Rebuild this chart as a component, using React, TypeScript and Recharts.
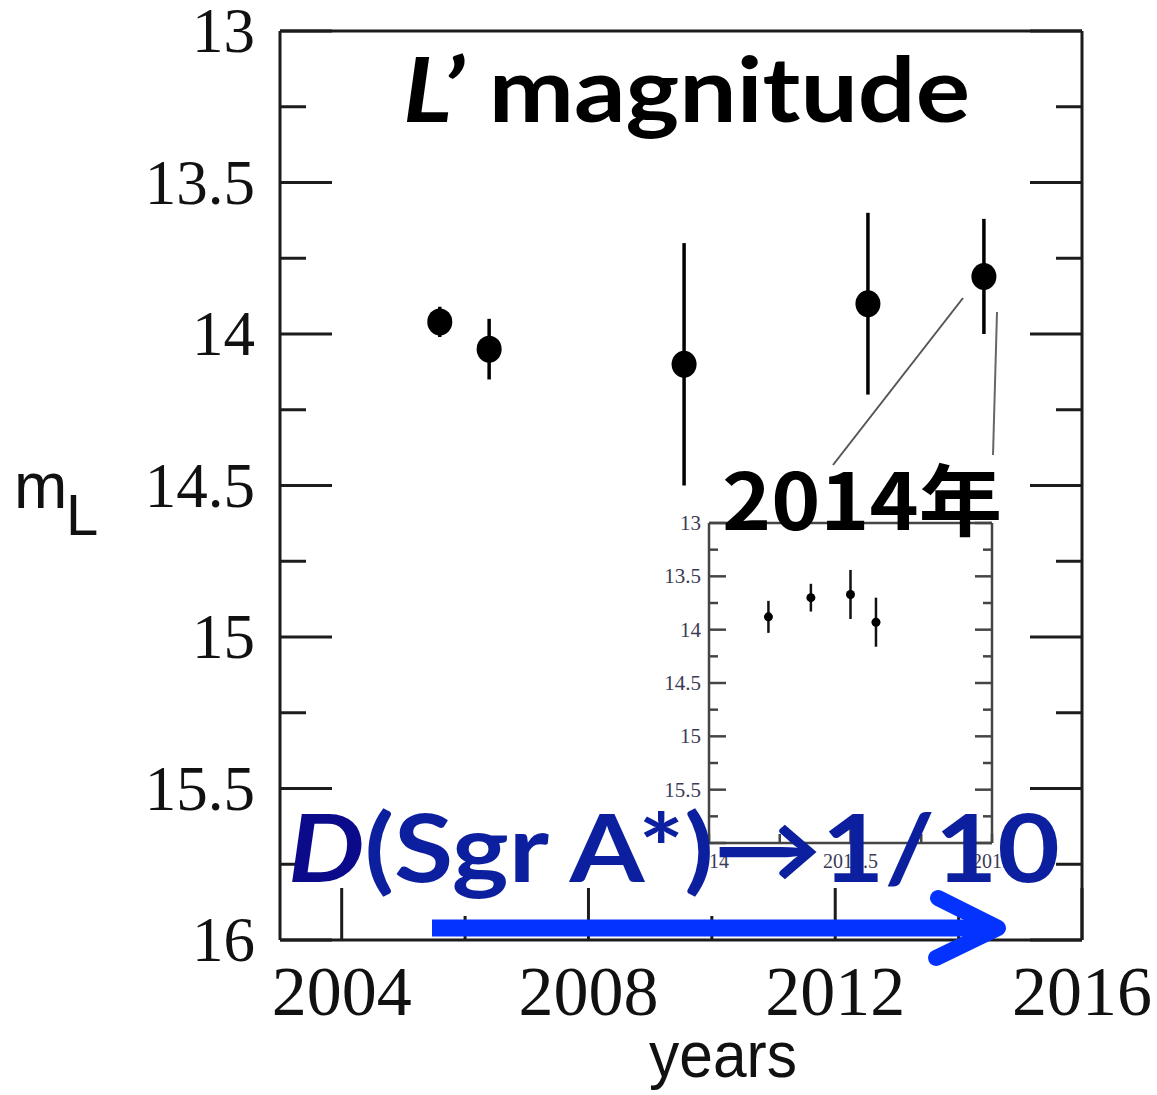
import React from 'react';
import { ScatterChart, Scatter, XAxis, YAxis, ErrorBar } from 'recharts';

// main panel: L' band photometry per epoch
const years = [2005.59, 2006.39, 2009.55, 2012.53, 2014.41];
const magnitudes = [13.96, 14.05, 14.1, 13.9, 13.81];
const errors = [0.05, 0.1, 0.4, 0.3, 0.19];

const xTicks = [2004, 2006, 2008, 2010, 2012, 2014, 2016];
const xLabels = [2004, 2008, 2012, 2016];
const yTicks = [13, 13.25, 13.5, 13.75, 14, 14.25, 14.5, 14.75, 15, 15.25, 15.5, 15.75, 16];
const yLabels = [13, 13.5, 14, 14.5, 15, 15.5, 16];

// inset: the 2014 epochs
const insetYears = [2014.21, 2014.36, 2014.5, 2014.59];
const insetMagnitudes = [13.88, 13.7, 13.67, 13.93];
const insetErrors = [0.15, 0.13, 0.23, 0.23];

const insetXTicks = [2014, 2014.25, 2014.5, 2014.75, 2015];
const insetXLabels = [2014, 2014.5, 2015];
const insetYTicks = yTicks;
const insetYLabels = [13, 13.5, 14, 14.5, 15, 15.5];

const FRAME = '#1c1c1c';
const INSET_FRAME = '#454545';

const points = years.map((x, i) => ({ x, y: magnitudes[i], err: errors[i] }));
const insetPoints = insetYears.map((x, i) => ({ x, y: insetMagnitudes[i], err: insetErrors[i] }));

const isHalf = (v: number) => Math.abs(v * 2 - Math.round(v * 2)) < 1e-6;

function BottomTick({ x, y, payload }: any) {
  const v = payload.value;
  const major = xLabels.includes(v);
  return (
    <g>
      <line x1={x} y1={y} x2={x} y2={y - (major ? 52 : 24)} stroke={FRAME} strokeWidth={3} />
      {major && (
        <text x={x} y={y + 75} textAnchor="middle" fontFamily="Liberation Serif" fontSize={70} fill="#111">
          {v}
        </text>
      )}
    </g>
  );
}

function TopTick({ x, y, payload }: any) {
  const major = xLabels.includes(payload.value);
  return <line x1={x} y1={y} x2={x} y2={y + (major ? 52 : 24)} stroke={FRAME} strokeWidth={3} />;
}

function LeftTick({ x, y, payload }: any) {
  const v = payload.value;
  const major = isHalf(v);
  return (
    <g>
      <line x1={x} y1={y} x2={x + (major ? 52 : 26)} y2={y} stroke={FRAME} strokeWidth={3} />
      {yLabels.includes(v) && (
        <text x={x - 25} y={y} dy={21} textAnchor="end" fontFamily="Liberation Serif" fontSize={63} fill="#111">
          {v}
        </text>
      )}
    </g>
  );
}

function RightTick({ x, y, payload }: any) {
  const major = isHalf(payload.value);
  return <line x1={x} y1={y} x2={x - (major ? 52 : 26)} y2={y} stroke={FRAME} strokeWidth={3} />;
}

function InsetBottomTick({ x, y, payload, index }: any) {
  const v = payload.value;
  const major = v === 2014.5;
  return (
    <g>
      {index === 0 && (
        <defs>
          <clipPath id="insetLabelClip">
            <rect x={700} y={840} width={320} height={60} />
          </clipPath>
        </defs>
      )}
      <line x1={x} y1={y} x2={x} y2={y - (major ? 17 : 9)} stroke={INSET_FRAME} strokeWidth={2.5} />
      {insetXLabels.includes(v) && (
        <text
          x={x}
          y={y + 25}
          textAnchor="middle"
          fontFamily="Liberation Serif"
          fontSize={20}
          fill="#3b3b55"
          clipPath="url(#insetLabelClip)"
        >
          {v}
        </text>
      )}
    </g>
  );
}

function InsetTopTick({ x, y, payload }: any) {
  const major = payload.value === 2014.5;
  return <line x1={x} y1={y} x2={x} y2={y + (major ? 17 : 9)} stroke={INSET_FRAME} strokeWidth={2.5} />;
}

function InsetLeftTick({ x, y, payload }: any) {
  const v = payload.value;
  const major = isHalf(v);
  return (
    <g>
      <line x1={x} y1={y} x2={x + (major ? 17 : 9)} y2={y} stroke={INSET_FRAME} strokeWidth={2.5} />
      {insetYLabels.includes(v) && (
        <text x={x - 8} y={y} dy={7} textAnchor="end" fontFamily="Liberation Serif" fontSize={21} fill="#3b3b55">
          {v}
        </text>
      )}
    </g>
  );
}

function InsetRightTick({ x, y, payload }: any) {
  const major = isHalf(payload.value);
  return <line x1={x} y1={y} x2={x - (major ? 17 : 9)} y2={y} stroke={INSET_FRAME} strokeWidth={2.5} />;
}

const BigDot = (p: any) => <ellipse cx={p.cx} cy={p.cy} rx={12.5} ry={13.5} fill="#000" />;
const SmallDot = (p: any) => <circle cx={p.cx} cy={p.cy} r={4.5} fill="#000" />;

function MainChart() {
  return (
    <ScatterChart width={1157} height={1095} margin={{ top: 0, right: 0, bottom: 0, left: 0 }}>
      <XAxis
        xAxisId="x"
        type="number"
        dataKey="x"
        domain={[2003, 2016]}
        ticks={xTicks}
        interval={0}
        height={155}
        tickSize={0}
        tickMargin={0}
        tickLine={false}
        axisLine={{ stroke: FRAME, strokeWidth: 3 }}
        tick={(p: any) => <BottomTick {...p} />}
        allowDataOverflow
      />
      <XAxis
        xAxisId="top"
        orientation="top"
        type="number"
        domain={[2003, 2016]}
        ticks={xTicks}
        interval={0}
        height={31}
        tickSize={0}
        tickMargin={0}
        tickLine={false}
        axisLine={{ stroke: FRAME, strokeWidth: 3 }}
        tick={(p: any) => <TopTick {...p} />}
        allowDataOverflow
      />
      <YAxis
        yAxisId="y"
        type="number"
        dataKey="y"
        domain={[13, 16]}
        reversed
        ticks={yTicks}
        interval={0}
        width={280}
        tickSize={0}
        tickMargin={0}
        tickLine={false}
        axisLine={{ stroke: FRAME, strokeWidth: 3 }}
        tick={(p: any) => <LeftTick {...p} />}
        allowDataOverflow
      />
      <YAxis
        yAxisId="right"
        orientation="right"
        type="number"
        domain={[13, 16]}
        reversed
        ticks={yTicks}
        interval={0}
        width={75}
        tickSize={0}
        tickMargin={0}
        tickLine={false}
        axisLine={{ stroke: FRAME, strokeWidth: 3 }}
        tick={(p: any) => <RightTick {...p} />}
        allowDataOverflow
      />
      <Scatter xAxisId="x" yAxisId="y" data={points} shape={BigDot} isAnimationActive={false}>
        <ErrorBar dataKey="err" direction="y" width={0} stroke="#000" strokeWidth={3.5} isAnimationActive={false} />
      </Scatter>
    </ScatterChart>
  );
}

function InsetChart() {
  return (
    <ScatterChart width={1157} height={1095} margin={{ top: 513, right: 155, bottom: 192, left: 609 }}>
      <XAxis
        xAxisId="x"
        type="number"
        dataKey="x"
        domain={[2014, 2015]}
        ticks={insetXTicks}
        interval={0}
        height={60}
        tickSize={0}
        tickMargin={0}
        tickLine={false}
        axisLine={{ stroke: INSET_FRAME, strokeWidth: 2.5 }}
        tick={(p: any) => <InsetBottomTick {...p} />}
        allowDataOverflow
      />
      <XAxis
        xAxisId="top"
        orientation="top"
        type="number"
        domain={[2014, 2015]}
        ticks={insetXTicks}
        interval={0}
        height={10}
        tickSize={0}
        tickMargin={0}
        tickLine={false}
        axisLine={{ stroke: INSET_FRAME, strokeWidth: 2.5 }}
        tick={(p: any) => <InsetTopTick {...p} />}
        allowDataOverflow
      />
      <YAxis
        yAxisId="y"
        type="number"
        dataKey="y"
        domain={[13, 16]}
        reversed
        ticks={insetYTicks}
        interval={0}
        width={100}
        tickSize={0}
        tickMargin={0}
        tickLine={false}
        axisLine={{ stroke: INSET_FRAME, strokeWidth: 2.5 }}
        tick={(p: any) => <InsetLeftTick {...p} />}
        allowDataOverflow
      />
      <YAxis
        yAxisId="right"
        orientation="right"
        type="number"
        domain={[13, 16]}
        reversed
        ticks={insetYTicks}
        interval={0}
        width={10}
        tickSize={0}
        tickMargin={0}
        tickLine={false}
        axisLine={{ stroke: INSET_FRAME, strokeWidth: 2.5 }}
        tick={(p: any) => <InsetRightTick {...p} />}
        allowDataOverflow
      />
      <Scatter xAxisId="x" yAxisId="y" data={insetPoints} shape={SmallDot} isAnimationActive={false}>
        <ErrorBar dataKey="err" direction="y" width={0} stroke="#111" strokeWidth={2.5} isAnimationActive={false} />
      </Scatter>
    </ScatterChart>
  );
}

function Annotations() {
  return (
    <svg width={1157} height={1095} style={{ position: 'absolute', left: 0, top: 0, pointerEvents: 'none' }}>
      {/* axis titles */}
      <text x={14} y={508} fontFamily="Liberation Sans" fontSize={64} fill="#111">
        m
      </text>
      <text x={66} y={535} fontFamily="Liberation Sans" fontSize={58} fill="#111">
        L
      </text>
      <text
        x={723}
        y={1077}
        textAnchor="middle"
        fontFamily="Liberation Sans"
        fontSize={64}
        textLength={148}
        lengthAdjust="spacingAndGlyphs"
        fill="#111"
      >
        years
      </text>

      {/* title */}
      <text
        x={403}
        y={122}
        fontFamily="Lato"
        fontWeight={700}
        fontSize={90}
        textLength={567}
        lengthAdjust="spacingAndGlyphs"
        fill="#000"
      >
        <tspan fontStyle="italic">L’</tspan>
        <tspan> magnitude</tspan>
      </text>

      {/* connector lines to the inset */}
      <line x1={963} y1={298} x2={833} y2={465} stroke="#555" strokeWidth={2} />
      <line x1={997} y1={312} x2={993} y2={455} stroke="#666" strokeWidth={2} />

      <text
        x={722}
        y={530}
        fontFamily="Noto Sans CJK SC"
        fontWeight={700}
        fontSize={78}
        textLength={280}
        lengthAdjust="spacingAndGlyphs"
        fill="#000"
      >
        2014年
      </text>

      {/* distance note */}
      <text
        x={288}
        y={882}
        fontFamily="Lato"
        fontWeight={700}
        fontSize={93}
        textLength={772}
        lengthAdjust="spacingAndGlyphs"
        fill="#0c1f9f"
      >
        <tspan fontStyle="italic" fill="#0a0a8a">D</tspan>
        <tspan>(Sgr A*)→1/10</tspan>
      </text>

      {/* blue arrow */}
      <line x1={432} y1={928} x2={994} y2={928} stroke="#0433ff" strokeWidth={17} />
      <polyline
        points="938,898 998,928 936,958"
        fill="none"
        stroke="#0433ff"
        strokeWidth={16}
        strokeLinecap="round"
        strokeLinejoin="round"
      />
    </svg>
  );
}

export default function App() {
  return (
    <div style={{ position: 'relative', width: 1157, height: 1095, background: '#fff' }}>
      <style>{'body{margin:0}'}</style>
      <div style={{ position: 'absolute', left: 0, top: 0 }}>
        <MainChart />
      </div>
      <div style={{ position: 'absolute', left: 0, top: 0 }}>
        <InsetChart />
      </div>
      <Annotations />
    </div>
  );
}
